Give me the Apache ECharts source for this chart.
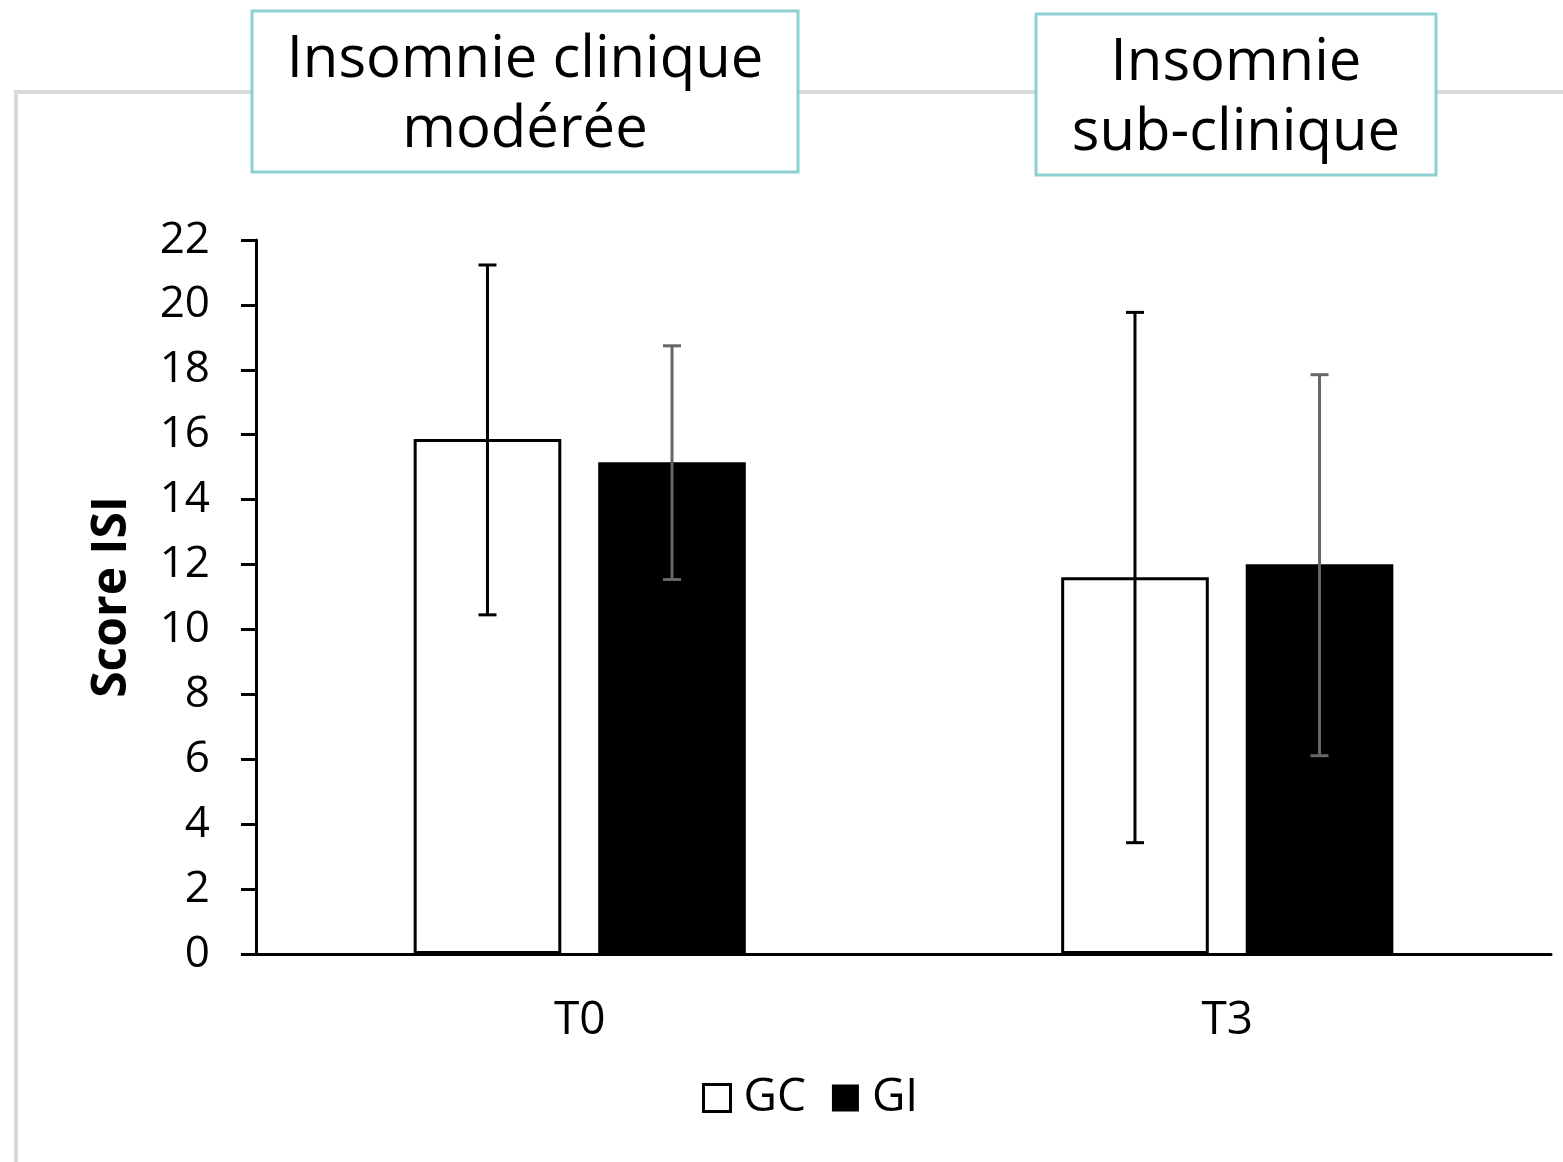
<!DOCTYPE html>
<html>
<head>
<meta charset="utf-8">
<script src="https://cdn.jsdelivr.net/npm/echarts@6/dist/echarts.min.js"></script>
<style>
html,body{margin:0;padding:0;background:#fff;}
#chart{width:1563px;height:1162px;}
</style>
</head>
<body>
<div id="chart"></div>
<script>
var categories = ['T0', 'T3'];
var seriesNames = ['GC', 'GI'];
var gcMean = [15.87, 11.61];
var giMean = [15.15, 12.01];
var gcLow = [10.45, 3.43];
var gcHigh = [21.23, 19.77];
var giLow = [11.54, 6.11];
var giHigh = [18.74, 17.85];
var yTicks = [0, 2, 4, 6, 8, 10, 12, 14, 16, 18, 20, 22];
var boxTitles = ['Insomnie clinique\nmodérée', 'Insomnie\nsub-clinique'];

var FONT = 'Open Sans';
var BAR_W = 0.228, BAR_GAP = 0.25;
var OFF = BAR_W * (1 + BAR_GAP) / 2;

function errData(low, high) {
  return categories.map(function (c, i) { return [i, low[i], high[i]]; });
}
function errRender(sign, color) {
  return function (params, api) {
    var i = api.value(0);
    var pLow = api.coord([i, api.value(1)]);
    var pHigh = api.coord([i, api.value(2)]);
    var band = api.size([1, 0])[0];
    var x = pLow[0] + sign * OFF * band;
    var cap = 9;
    var st = { stroke: color, lineWidth: 3 };
    return {
      type: 'group',
      children: [
        { type: 'line', shape: { x1: x, y1: pHigh[1], x2: x, y2: pLow[1] }, style: st },
        { type: 'line', shape: { x1: x - cap, y1: pHigh[1], x2: x + cap, y2: pHigh[1] }, style: st },
        { type: 'line', shape: { x1: x - cap, y1: pLow[1], x2: x + cap, y2: pLow[1] }, style: st }
      ]
    };
  };
}

var chart = echarts.init(document.getElementById('chart'), null, { renderer: 'canvas' });
chart.setOption({
  backgroundColor: '#fff',
  animation: false,
  textStyle: { fontFamily: FONT },
  graphic: [
    { type: 'rect', z: 0, shape: { x: 16, y: 92, width: 1700, height: 1300 },
      style: { fill: 'none', stroke: '#d9d9d9', lineWidth: 4 } },
    { type: 'rect', z: 1, shape: { x: 252, y: 11, width: 546, height: 161 },
      style: { fill: '#fff', stroke: '#8ecfd0', lineWidth: 3 } },
    { type: 'text', z: 2, style: { text: boxTitles[0], x: 525, y: 95, align: 'center', verticalAlign: 'middle',
      fontSize: 58, fontFamily: FONT, lineHeight: 70, fill: '#000' } },
    { type: 'rect', z: 1, shape: { x: 1036, y: 14, width: 400, height: 161 },
      style: { fill: '#fff', stroke: '#8ecfd0', lineWidth: 3 } },
    { type: 'text', z: 2, style: { text: boxTitles[1], x: 1236, y: 98, align: 'center', verticalAlign: 'middle',
      fontSize: 58, fontFamily: FONT, lineHeight: 70, fill: '#000' } }
  ],
  grid: { left: 256, right: 12, top: 240, bottom: 208, containLabel: false },
  legend: {
    data: [
      { name: seriesNames[0], itemStyle: { color: '#fff', borderColor: '#000', borderWidth: 3 } },
      { name: seriesNames[1], itemStyle: { color: '#000', borderColor: '#000', borderWidth: 0 } }
    ],
    left: 697, top: 1070,
    itemWidth: 27, itemHeight: 27, itemGap: 26,
    icon: 'rect',
    textStyle: { fontSize: 46, fontFamily: FONT, color: '#000', padding: [0, 0, 0, 8] }
  },
  xAxis: {
    type: 'category',
    data: categories,
    axisLine: { lineStyle: { color: '#000', width: 3 } },
    axisTick: { show: false },
    axisLabel: { fontSize: 46, fontFamily: FONT, color: '#000', margin: 44 },
    splitLine: { show: false }
  },
  yAxis: {
    type: 'value',
    min: yTicks[0], max: yTicks[yTicks.length - 1], interval: 2,
    name: 'Score ISI',
    nameLocation: 'middle', nameRotate: 90, nameGap: 120,
    nameTextStyle: { fontSize: 48, fontWeight: 'bold', fontFamily: FONT, color: '#000' },
    axisLine: { show: true, lineStyle: { color: '#000', width: 3 } },
    axisTick: { show: true, length: 15, lineStyle: { color: '#000', width: 3 } },
    axisLabel: { fontSize: 44, fontFamily: FONT, color: '#000', margin: 46 },
    splitLine: { show: false }
  },
  series: [
    { name: 'GC', type: 'bar', data: gcMean, barWidth: (BAR_W * 100) + '%', barGap: (BAR_GAP * 100) + '%',
      itemStyle: { color: '#fff', borderColor: '#000', borderWidth: 3 } },
    { name: 'GI', type: 'bar', data: giMean, barWidth: (BAR_W * 100) + '%', barGap: (BAR_GAP * 100) + '%',
      itemStyle: { color: '#000', borderColor: '#000', borderWidth: 0 } },
    { name: 'GC err', type: 'custom', renderItem: errRender(-1, '#000'), data: errData(gcLow, gcHigh), z: 5 },
    { name: 'GI err', type: 'custom', renderItem: errRender(1, '#666'), data: errData(giLow, giHigh), z: 5 }
  ]
});
</script>
</body>
</html>
